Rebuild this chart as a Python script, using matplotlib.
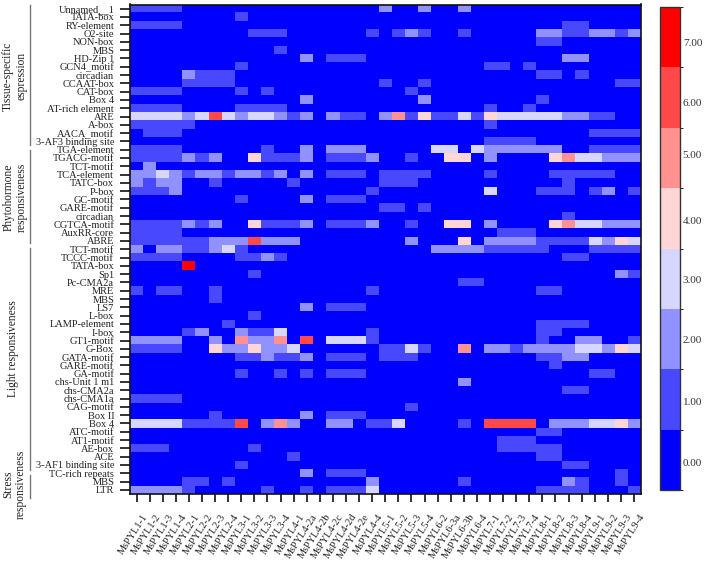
import numpy as np
from matplotlib import pyplot as plt
from matplotlib.colors import BoundaryNorm, ListedColormap
from matplotlib.transforms import ScaledTranslation

plt.rcParams['font.family'] = ['Liberation Serif', 'DejaVu Serif']

samples = ["MsPYL1-1", "MsPYL1-2", "MsPYL1-3", "MsPYL1-4", "MsPYL2-1", "MsPYL2-2", "MsPYL2-3", "MsPYL2-4",
           "MsPYL3-1", "MsPYL3-2", "MsPYL3-3", "MsPYL3-4", "MsPYL4-1", "MsPYL4-2a", "MsPYL4-2b", "MsPYL4-2c",
           "MsPYL4-2d", "MsPYL4-2e", "MsPYL4-4", "MsPYL5-1", "MsPYL5-2", "MsPYL5-3", "MsPYL5-4", "MsPYL6-2",
           "MsPYL6-3a", "MsPYL6-3b", "MsPYL6-4", "MsPYL7-1", "MsPYL7-2", "MsPYL7-3", "MsPYL7-4", "MsPYL8-1",
           "MsPYL8-2", "MsPYL8-3", "MsPYL8-4", "MsPYL9-1", "MsPYL9-2", "MsPYL9-3", "MsPYL9-4"]

tissue_names = ["Unnamed__1", "TATA-box", "RY-element", "O2-site", "NON-box", "MBS", "HD-Zip 1", "GCN4_motif",
                "circadian", "CCAAT-box", "CAT-box", "Box 4", "AT-rich element", "ARE", "A-box", "AACA_motif",
                "3-AF3 binding site"]
hormone_names = ["TGA-element", "TGACG-motif", "TCT-motif", "TCA-element", "TATC-box", "P-box", "GC-motif",
                 "GARE-motif", "circadian", "CGTCA-motif", "AuxRR-core", "ABRE"]
light_names = ["TCT-motif", "TCCC-motif", "TATA-box", "Sp1", "Pc-CMA2a", "MRE", "MBS", "LS7", "L-box",
               "LAMP-element", "I-box", "GT1-motif", "G-Box", "GATA-motif", "GARE-motif", "GA-motif",
               "chs-Unit 1 m1", "chs-CMA2a", "chs-CMA1a", "CAG-motif", "Box II", "Box 4", "ATC-motif",
               "AT1-motif", "AE-box", "ACE", "3-AF1 binding site"]
stress_names = ["TC-rich repeats", "MBS", "LTR"]

# one digit per sample, space only splits the row in two so it is easier to read
tissue_values = [
    "1111000000000000 00020020020000000000000",
    "0000000010000000 00000000000000000000000",
    "1111000000000000 00000000000000000110000",
    "0000000001110000 00101210010000022112212",
    "0000000000000000 00000000000000011000000",
    "0000000000010000 00000000000000000000000",
    "0000000000000201 11000000000000000220000",
    "0000000010000000 00000000000110100000000",
    "0000211100000000 00000000000000011010000",
    "0000111100000000 00010010000000000000011",
    "1111000010100000 00000100000000000000000",
    "0000000000000200 00000020000000010000000",
    "1111000011110000 00000000000100100000000",
    "3333236323321202 11025141131433333221100",
    "1111100000000000 00000000000100000000000",
    "0111000000000000 00000000000000000001111",
    "0000000000000000 00000000000111100000000",
]
hormone_values = [
    "1111000000100202 22000003303222222001111",
    "1111212004111201 11200100440200004533222",
    "0200000000000000 00000000000000000000000",
    "2232122122120201 11011110000100001111100",
    "2122001000001000 00011100000000000100000",
    "1112000000000000 00100000000300011101201",
    "0000000010000201 11000000000000000000000",
    "0000000000000000 00011010000000000000000",
    "0000000000000000 00000000000000000100000",
    "1111212004111201 11200100440200004533222",
    "1111000000000000 00000000000011100000000",
    "1111112226222000 00000200040222211113243",
]
light_values = [
    "2022112310000000 00000002222111110001111",
    "1111000011210000 00000000000000000110000",
    "0000700000000000 00000000000000000000000",
    "0000000001000000 00000000000000000000021",
    "0000000000000000 00000000011000000000000",
    "1011001000000000 00100000000000011000000",
    "0000001000000000 00000000000000000000000",
    "0000000000000201 11000000000000000000000",
    "0000000001000000 00000000000000000000000",
    "0000000100000000 00000000000000011110000",
    "0000120021130000 00100000000000011000000",
    "2222002052250603 33100000000000010022001",
    "1111004224223000 00011310050221222233243",
    "0000000011211201 11011100000000011220000",
    "0000000000000000 00000000000000001000000",
    "0000000010010101 11000000000000000001100",
    "0000000000000000 00000000020000000000000",
    "0000000000000000 00000000000000000110000",
    "1111000000000000 00000000000000000000000",
    "0000000000000000 00000100000000000000000",
    "0000001000000201 11000000000000000000000",
    "3333111160252002 20113000010666602223342",
    "0000000000000000 00000000000000011000000",
    "0000000000000000 00000000000011100000000",
    "1110000001000000 00000000000011111000000",
    "0000000000001000 00000000000000011000000",
    "0000000010000000 00000000000000000110000",
]
stress_values = [
    "0000000000000201 11000000000000000000010",
    "0000110100000000 00200000010000000210010",
    "2222100000100101 11300000000000011110001",
]

group_titles = ["Tissue-specific\nespression", "Phytohormone\nresponsiveness", "Light responsiveness",
                "Stress\nresponsiveness"]
level_colors = ["#0000ff", "#4848ff", "#9191ff", "#d6d6ff", "#ffd6d6", "#ff9191", "#ff4848", "#ff0000"]
level_labels = ["0.00", "1.00", "2.00", "3.00", "4.00", "5.00", "6.00", "7.00"]
level_ticks = [-0.05, 0.97, 2.0, 2.98, 3.97, 5.05, 5.92, 6.92]

W, H = 708, 564


def to_matrix(rows):
    out = []
    for r in rows:
        r = r.replace(" ", "")
        assert len(r) == len(samples), r
        out.append([int(c) for c in r])
    return out


def px_axes(fig, x0, y0, x1, y1):
    # pixel box with y going down
    return fig.add_axes([x0 / W, 1 - y1 / H, (x1 - x0) / W, (y1 - y0) / H])


names = tissue_names + hormone_names + light_names + stress_names
data = np.array(to_matrix(tissue_values) + to_matrix(hormone_values) + to_matrix(light_values) + to_matrix(stress_values))
assert data.shape[0] == len(names)

cmap = ListedColormap(level_colors)
norm = BoundaryNorm(np.arange(-0.5, 8.5), cmap.N)

fig = plt.figure(figsize=(W / 100, H / 100), dpi=100)
ax = px_axes(fig, 130, 4.5, 640.5, 494)
im = ax.imshow(data, cmap=cmap, norm=norm, aspect='auto', interpolation='nearest')

ax.set_yticks(range(len(names)))
ax.set_yticklabels(names, fontsize=7.5, color="#222222")
ax.set_xticks(range(len(samples)))
ax.set_xticklabels(samples, fontsize=7.5, color="#222222", rotation=57, ha='right', va='top',
                   rotation_mode='anchor')
ax.tick_params(axis='y', length=7.2, width=1.2, pad=4.2, color="#111111")
ax.tick_params(axis='x', length=6, width=1.2, pad=7, color="#111111")
shift = ScaledTranslation(5 / 100, 0, fig.dpi_scale_trans)
for t in ax.get_xticklabels():
    t.set_transform(t.get_transform() + shift)
for s in ax.spines.values():
    s.set_linewidth(1.2)
    s.set_color("#111111")

cax = px_axes(fig, 659.5, 7, 680, 490)
cbar = fig.colorbar(im, cax=cax, ticks=level_ticks, spacing='proportional')
cbar.ax.set_yticklabels(level_labels, fontsize=8, color="#333333")
cbar.ax.tick_params(length=0, pad=2)
cbar.outline.set_linewidth(1.0)
cbar.outline.set_edgecolor("#333333")
cbar.dividers.set_visible(False)

# group brackets and titles are drawn in pixel coordinates on a full size overlay
over = fig.add_axes([0, 0, 1, 1], facecolor='none')
over.set_xlim(0, W)
over.set_ylim(H, 0)
over.axis('off')
group_spans = [(5, 145), (150, 243), (248, 470), (475, 498)]
title_pos = [(14.5, 76), (15.5, 197), (13, 349), (14.5, 484)]
for (y0, y1), (tx, ty), title in zip(group_spans, title_pos, group_titles):
    over.plot([30, 30], [y0, y1], color="#777777", lw=1.0)
    over.text(tx, ty, title, rotation=90, ha='center', va='center', fontsize=8.3, color="#222222",
              linespacing=1.15, multialignment='center')

fig.savefig("out.png", dpi=100)
